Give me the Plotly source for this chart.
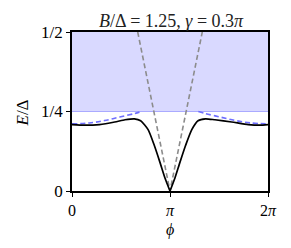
import numpy as np
import plotly.graph_objects as go

PI = np.pi

# Bound state energy (black), left half 0..pi and right half pi..2pi
phi_black_left = [0.0, 0.40, 0.88, 1.37, 1.70, 2.00, 2.20, 2.44, 2.64, 2.82, 2.98, PI]
E_black_left = [0.209, 0.207, 0.209, 0.217, 0.224, 0.227, 0.221, 0.193, 0.143, 0.090, 0.041, 0.0]
phi_black_right = [PI, 3.30, 3.46, 3.64, 3.84, 4.04, 4.28, 4.58, 5.12, 5.65, 6.03, 2 * PI]
E_black_right = [0.0, 0.041, 0.090, 0.143, 0.193, 0.221, 0.227, 0.224, 0.217, 0.209, 0.207, 0.209]

# Blue dashed (continuum edge)
phi_blue = [0.0, 0.56, 1.04, 1.53, 2.01, 2.23, None, 4.05, 4.27, 4.75, 5.24, 5.72, 2 * PI]
E_blue = [0.211, 0.214, 0.2215, 0.2326, 0.2437, 0.25, None, 0.25, 0.2437, 0.2326, 0.2215, 0.214, 0.211]

# Gray dashed V
phi_gray = [PI - 1.035, PI, PI + 1.035]
E_gray = [0.5, 0.0, 0.5]

# Continuum band
band_lo, band_hi = 0.25, 0.5

x_ticks = [0, PI, 2 * PI]
x_ticklabels = ["0", "<i>π</i>", "2<i>π</i>"]
y_ticks = [0, 0.25, 0.5]
y_ticklabels = ["0", "1/4", "1/2"]

FONT = "Liberation Serif"

fig = go.Figure()

fig.add_shape(type="rect", xref="paper", yref="y", x0=0, x1=1, y0=band_lo, y1=band_hi,
              fillcolor="rgba(0,0,255,0.15)", line_width=0, layer="below")
fig.add_shape(type="line", xref="paper", yref="y", x0=0, x1=1, y0=band_lo, y1=band_lo,
              line=dict(color="rgba(90,90,255,0.45)", width=1.2), layer="below")

fig.add_trace(go.Scatter(x=phi_gray, y=E_gray, mode="lines",
                         line=dict(color="#8c8c8c", width=1.6, dash="5px,3px")))
fig.add_trace(go.Scatter(x=phi_blue, y=E_blue, mode="lines", connectgaps=False,
                         line=dict(color="#6e6eff", width=1.6, dash="5px,3px", shape="spline")))
fig.add_trace(go.Scatter(x=phi_black_left, y=E_black_left, mode="lines",
                         line=dict(color="black", width=1.7, shape="spline", smoothing=0.6)))
fig.add_trace(go.Scatter(x=phi_black_right, y=E_black_right, mode="lines",
                         line=dict(color="black", width=1.7, shape="spline", smoothing=0.6)))

fig.update_layout(
    width=291, height=248,
    margin=dict(l=72, r=23, t=32, b=57, autoexpand=False),
    paper_bgcolor="white", plot_bgcolor="white",
    showlegend=False,
    font=dict(family=FONT, size=17, color="black"),
    title=dict(text="<i>B</i>/Δ = 1.25, <i>γ</i> = 0.3<i>π</i>",
               x=0.588, xanchor="center", y=1 - 21 / 248, yanchor="middle",
               automargin=False,
               font=dict(family=FONT, size=18, color="#222")),
    annotations=[
        dict(text="<i>ϕ</i>", xref="paper", yref="paper", x=0.5, y=(191 - 230) / 159,
             xanchor="center", yanchor="middle", showarrow=False,
             font=dict(family=FONT, size=16, color="black")),
        dict(text="<i>E</i>/Δ", xref="paper", yref="paper", x=(21.5 - 72) / 196, y=(191 - 113) / 159,
             xanchor="center", yanchor="middle", showarrow=False, textangle=-90,
             font=dict(family=FONT, size=17, color="black")),
    ],
)
fig.update_xaxes(range=[0, 2 * PI], tickvals=x_ticks, ticktext=x_ticklabels,
                 automargin=False, tickfont=dict(size=16),
                 showgrid=False, zeroline=False, showline=True, mirror=True,
                 linecolor="black", linewidth=1.6, ticks="outside", ticklen=4,
                 tickwidth=1.2, tickcolor="black")
fig.update_yaxes(range=[0, 0.5], tickvals=y_ticks, ticktext=y_ticklabels,
                 automargin=False,
                 showgrid=False, zeroline=False, showline=True, mirror=True,
                 linecolor="black", linewidth=1.6, ticks="outside", ticklen=4,
                 tickwidth=1.2, tickcolor="black")

fig.write_html("out.html", config={"displayModeBar": False},
               post_script="document.body.style.margin='0';document.body.style.overflow='hidden';")
